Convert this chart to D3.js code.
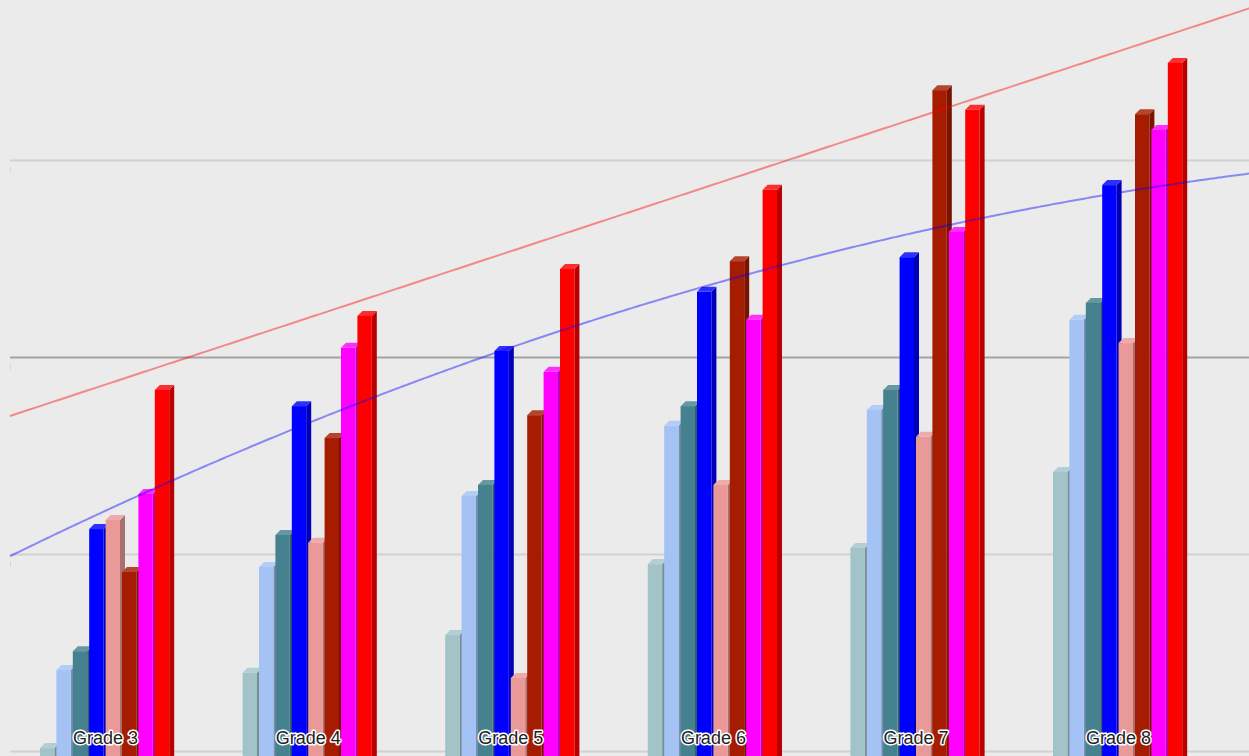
<!DOCTYPE html>
<html>
<head>
<meta charset="utf-8">
<script src="https://cdn.jsdelivr.net/npm/d3@7"></script>
<style>
  html, body { margin: 0; padding: 0; background: #ebebeb; overflow: hidden; }
  svg { display: block; }
</style>
</head>
<body>
<svg id="chart" width="1249" height="756"></svg>
<script>
// ---------- data ----------
const grades = ["Grade 3", "Grade 4", "Grade 5", "Grade 6", "Grade 7", "Grade 8"];
const seriesNames = ["Series 1", "Series 2", "Series 3", "Series 4", "Series 5", "Series 6", "Series 7", "Series 8"];
const seriesColors = ["#a2c4c9", "#a4c2f4", "#45818e", "#0000ff", "#ea9999", "#a61c00", "#ff00ff", "#ff0000"];
const series1 = [602.0, 621.1, 630.7, 648.7, 652.8, 672.1];
const series2 = [621.8, 648.0, 666.0, 683.8, 687.8, 710.7];
const series3 = [626.6, 656.1, 668.8, 688.8, 692.9, 715.0];
const series4 = [657.6, 688.8, 702.8, 717.8, 726.6, 744.9];
const series5 = [659.9, 654.1, 619.8, 668.8, 681.0, 704.8];
const series6 = [646.7, 680.7, 686.5, 725.6, 769.0, 762.9];
const series7 = [666.5, 703.6, 697.5, 710.7, 733.0, 758.9];
const series8 = [692.9, 711.7, 723.6, 743.7, 764.0, 775.9];
const allSeries = [series1, series2, series3, series4, series5, series6, series7, series8];
const gridValues = [600, 650, 700, 750];
const darkGridValue = 700;

// ---------- layout ----------
const W = 1249, H = 756;
const plotLeft = 10;
const svg = d3.select("#chart");

const y = d3.scaleLinear().domain([600, 750]).range([751, 160]);
const x0 = d3.scaleBand().domain(grades).range([4.3, 1219.9]).paddingInner(0.3524).paddingOuter(0.1762);
const x1 = d3.scaleBand().domain(seriesNames).range([0, x0.bandwidth()]);
const depth = 5;
const frontW = x1.step() - 2;
const bottomY = H + 60;

// gridlines
svg.append("g").selectAll("line").data(gridValues).join("line")
  .attr("x1", plotLeft).attr("x2", W)
  .attr("y1", d => y(d) + 0.5).attr("y2", d => y(d) + 0.5)
  .attr("stroke", d => d === darkGridValue ? "#a3a3a3" : "#d2d2d2")
  .attr("stroke-width", 2);
// faint axis tick remnants
svg.append("g").selectAll("line").data(gridValues).join("line")
  .attr("x1", plotLeft + 0.5).attr("x2", plotLeft + 0.5)
  .attr("y1", d => y(d) + 7).attr("y2", d => y(d) + 13)
  .attr("stroke", "#d8d8d8").attr("stroke-width", 1);

// bars
const barsG = svg.append("g");
grades.forEach((g, gi) => {
  seriesNames.forEach((s, si) => {
    const v = allSeries[si][gi];
    const c = d3.color(seriesColors[si]);
    const side = c.darker(0.9).formatHex();
    const top = d3.interpolateRgb(seriesColors[si], "#ffffff")(0.18);
    const xf = x0(g) + x1(s);
    const yt = y(v);
    const bar = barsG.append("g");
    bar.append("polygon")
      .attr("points", [[xf + frontW, yt + depth], [xf + frontW + depth, yt], [xf + frontW + depth, bottomY], [xf + frontW, bottomY]].map(p => p.join(",")).join(" "))
      .attr("fill", side);
    bar.append("polygon")
      .attr("points", [[xf, yt + depth], [xf + depth, yt], [xf + frontW + depth, yt], [xf + frontW, yt + depth]].map(p => p.join(",")).join(" "))
      .attr("fill", top);
    bar.append("rect")
      .attr("x", xf).attr("y", yt + depth)
      .attr("width", frontW).attr("height", bottomY - yt - depth)
      .attr("fill", c.formatHex());
  });
});

// trendlines (least squares fits of the series)
function polyFit(ys, degree) {
  const n = degree + 1;
  const A = Array.from({length: n}, () => new Array(n).fill(0));
  const b = new Array(n).fill(0);
  ys.forEach((v, i) => {
    for (let r = 0; r < n; r++) {
      b[r] += v * Math.pow(i, r);
      for (let c = 0; c < n; c++) A[r][c] += Math.pow(i, r + c);
    }
  });
  // gaussian elimination
  for (let k = 0; k < n; k++) {
    for (let r = k + 1; r < n; r++) {
      const f = A[r][k] / A[k][k];
      for (let c = k; c < n; c++) A[r][c] -= f * A[k][c];
      b[r] -= f * b[k];
    }
  }
  const coef = new Array(n).fill(0);
  for (let r = n - 1; r >= 0; r--) {
    let s = b[r];
    for (let c = r + 1; c < n; c++) s -= A[r][c] * coef[c];
    coef[r] = s / A[r][r];
  }
  return t => coef.reduce((acc, cf, p) => acc + cf * Math.pow(t, p), 0);
}
const center0 = x0(grades[0]) + x0.bandwidth() / 2;
const step = x0.step();
const pxs = d3.range(plotLeft, W + 5, 3);
const trendDefs = [
  { fn: polyFit(series8, 1), color: "#ff0000" },
  { fn: polyFit(series4, 2), color: "#0000ff" }
];
const line = d3.line().x(d => d[0]).y(d => d[1]);
trendDefs.forEach(t => {
  const pts = pxs.map(px => [px, y(t.fn((px - center0) / step))]);
  svg.append("path").attr("d", line(pts))
    .attr("fill", "none").attr("stroke", t.color)
    .attr("stroke-opacity", 0.42).attr("stroke-width", 2);
});

// category labels
svg.append("g").selectAll("text").data(grades).join("text")
  .attr("x", d => x0(d) + x0.bandwidth() / 2)
  .attr("y", 744)
  .attr("text-anchor", "middle")
  .attr("font-family", "Arial, 'Liberation Sans', sans-serif")
  .attr("font-size", 18)
  .attr("fill", "#222222")
  .attr("stroke", "#ffffff")
  .attr("stroke-width", 3)
  .attr("stroke-linejoin", "round")
  .attr("paint-order", "stroke")
  .text(d => d);
</script>
</body>
</html>
